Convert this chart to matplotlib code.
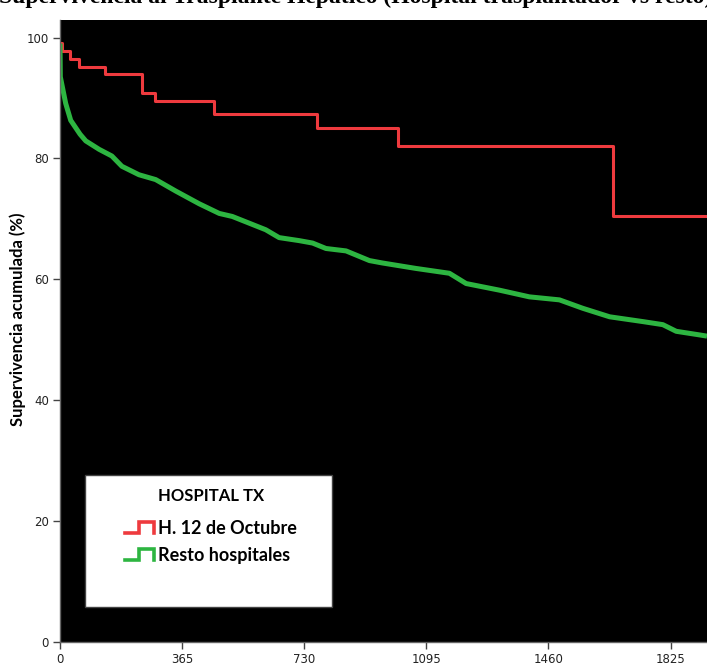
import numpy as np
import matplotlib
matplotlib.use("Agg")
import matplotlib.pyplot as plt
from matplotlib.lines import Line2D
from matplotlib.patches import Rectangle
from matplotlib.legend_handler import HandlerBase

# ---------------------------------------------------------------------------
# Kaplan-Meier curves (days, cumulative survival %)
# ---------------------------------------------------------------------------
red_days = [0, 7, 29, 57, 135, 246, 283, 461, 769, 1009, 1653, 1934]
red_surv = [99.1, 97.7, 96.4, 95.1, 93.9, 90.8, 89.5, 87.3, 85.1, 82.1, 70.4, 70.4]

green_days = [0, 1, 17, 32, 60, 77, 117, 155, 185, 236, 286, 346, 416, 476,
              515, 615, 655, 715, 755, 795, 855, 925, 964, 1064, 1164, 1214,
              1314, 1403, 1493, 1563, 1643, 1743, 1802, 1842, 1912, 1934]
green_surv = [99.0, 93.5, 89.1, 86.3, 84.0, 82.9, 81.5, 80.4, 78.7, 77.3,
              76.5, 74.6, 72.5, 70.9, 70.4, 68.2, 66.9, 66.4, 66.0, 65.1,
              64.7, 63.1, 62.7, 61.8, 61.0, 59.3, 58.2, 57.1, 56.6, 55.2,
              53.8, 53.0, 52.5, 51.4, 50.8, 50.6]

group_labels = ["H. 12 de Octubre", "Resto hospitales"]
x_ticks = [0, 365, 730, 1095, 1460, 1825]
y_ticks = [0, 20, 40, 60, 80, 100]

RED = "#EE3A3E"
GREEN = "#2DB541"


class StepHandler(HandlerBase):
    """Legend icon drawn as a small step, like SPSS survival plots."""
    def create_artists(self, legend, orig_handle, xdescent, ydescent,
                       width, height, fontsize, trans):
        xs = np.array([0, 0.48, 0.48, 1.0, 1.0]) * width - xdescent
        ys = np.array([0.05, 0.05, 0.95, 0.95, 0.05]) * height - ydescent
        ln = Line2D(xs, ys, color=orig_handle.get_color(), lw=2.6,
                    solid_joinstyle="miter")
        ln.set_transform(trans)
        return [ln]


fig = plt.figure(figsize=(7.07, 6.71), dpi=100)
ax = fig.add_axes([60 / 707, 29 / 671, 1 - 60 / 707, 622 / 671])
ax.set_facecolor("black")

red_line, = ax.plot(red_days, red_surv, drawstyle="steps-post", color=RED, lw=2.2)
green_line, = ax.plot(green_days, green_surv, color=GREEN, lw=3.6,
                      solid_capstyle="butt")

ax.set_xlim(0, 1934)
ax.set_ylim(0, 102.9)
ax.set_xticks(x_ticks)
ax.set_yticks(y_ticks)

tick_font = {"family": ["Liberation Sans Narrow", "DejaVu Sans"], "size": 8.5}
ax.set_xticklabels([str(t) for t in x_ticks], fontdict=tick_font, color="#222222")
ax.set_yticklabels([str(t) for t in y_ticks], fontdict=tick_font, color="#222222")
ax.tick_params(axis="both", length=5, width=1, color="#444444", pad=3)

for side in ["top", "right"]:
    ax.spines[side].set_visible(False)
for side in ["left", "bottom"]:
    ax.spines[side].set_color("#666666")
    ax.spines[side].set_linewidth(1)

ax.set_ylabel("Supervivencia acumulada (%)", family="Lato", weight="bold",
              fontsize=12)
ax.yaxis.set_label_coords(-0.053, 0.519)

# white legend box
box = Rectangle((25 / 647, 35.3 / 622), 246.7 / 647, 131.7 / 622,
                transform=ax.transAxes, facecolor="white", edgecolor="#444444",
                lw=1, zorder=5)
ax.add_patch(box)

leg = ax.legend([red_line, green_line], group_labels,
                handler_map={red_line: StepHandler(), green_line: StepHandler()},
                loc="upper left", bbox_to_anchor=(0.1, 0.247),
                frameon=False, borderpad=0, borderaxespad=0,
                handlelength=1.6, handleheight=0.7, handletextpad=0.22,
                labelspacing=0.55, title="HOSPITAL TX",
                prop={"family": "Lato", "weight": "bold", "size": 13},
                title_fontproperties={"family": "Lato", "weight": "bold",
                                      "size": 12})
leg.set_zorder(6)
leg._legend_box.sep = 11

# title is cut off at the top of the image
fig.text(-0.002, 1 - 2.5 / 671, "Supervivencia al Trasplante Hepático (Hospital trasplantador vs resto)",
         family="Liberation Serif", weight="bold", fontsize=17,
         ha="left", va="baseline")

fig.savefig("out.png", dpi=100)
